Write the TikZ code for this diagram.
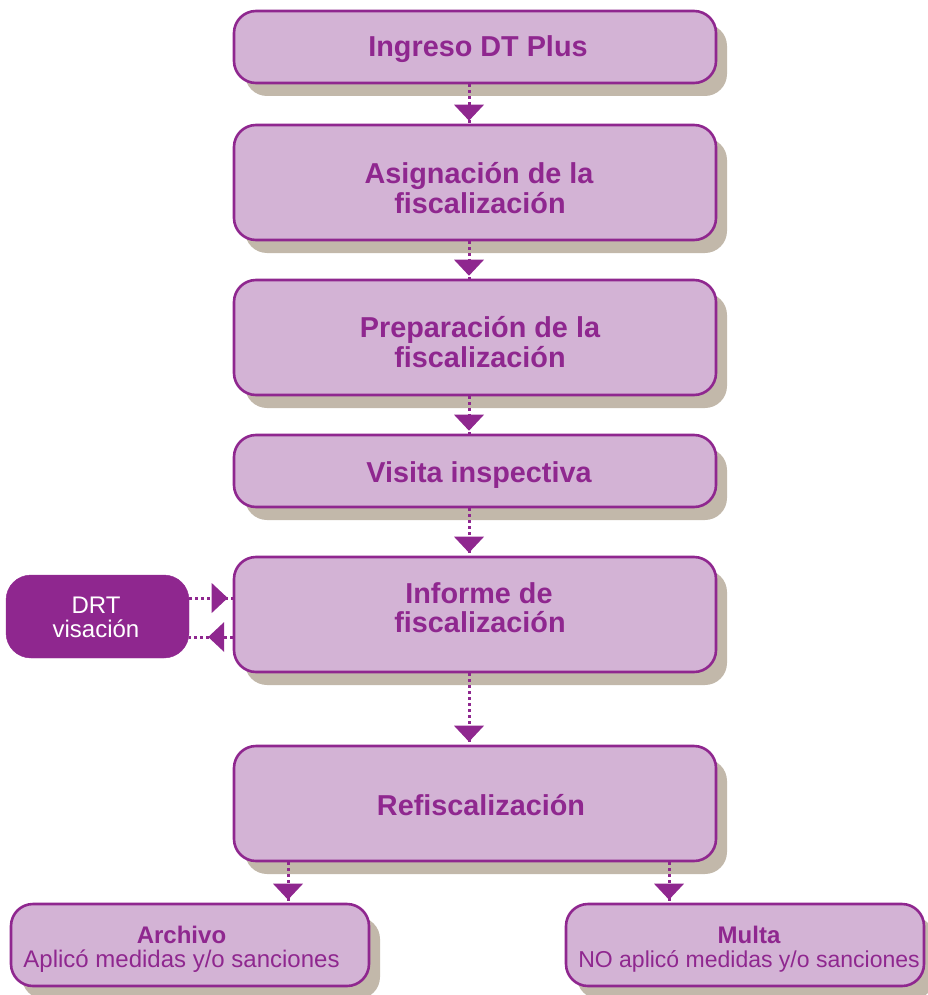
\documentclass[tikz,border=0pt]{standalone}
\usepackage{fontspec}
\setmainfont{Liberation Sans}
\usetikzlibrary{arrows.meta,shadows}
\definecolor{purp}{HTML}{8F278F}
\definecolor{lilac}{HTML}{D3B3D5}
\definecolor{shade}{HTML}{C2B8AA}
\begin{document}
\begin{tikzpicture}[x=1pt,y=-1pt,
  box/.style={draw=purp, line width=2.6pt, fill=lilac, rounded corners=22pt,
    drop shadow={shadow xshift=11pt, shadow yshift=-13pt, fill=shade, opacity=1},
    inner sep=0pt, minimum width=482pt},
  smallbox/.style={box, minimum width=358pt, minimum height=82pt},
  drtbox/.style={fill=purp, draw=purp, rounded corners=25pt, inner sep=0pt,
    minimum width=183pt, minimum height=83pt},
  big/.style={anchor=base, inner sep=0pt, text=purp, font=\fontsize{28.8}{30}\selectfont\bfseries},
  sml/.style={anchor=base, inner sep=0pt, text=purp, font=\fontsize{24}{24}\selectfont},
  smlb/.style={sml, font=\fontsize{24}{24}\selectfont\bfseries},
  wht/.style={anchor=base, inner sep=0pt, text=white, font=\fontsize{24}{24}\selectfont},
  dots/.style={draw=purp, line width=3pt, dash pattern=on 3pt off 3pt},
  head/.style={draw=purp, line width=1pt, line cap=butt, dash pattern=on 0pt off 3000pt,
    -{Triangle[width=30pt,length=16pt,line width=0pt]}},
]
\useasboundingbox (0,0) rectangle (928,995);

% boxes
\node[box, minimum height=72pt] (b1) at (475,47) {};
\node[box, minimum height=115pt] (b2) at (475,182.5) {};
\node[box, minimum height=115pt] (b3) at (475,337.5) {};
\node[box, minimum height=72pt] (b4) at (475,471) {};
\node[box, minimum height=115pt] (b5) at (475,614.5) {};
\node[box, minimum height=115pt] (b6) at (475,803.5) {};
\node[smallbox] (arch) at (190,945) {};
\node[smallbox] (multa) at (745,945) {};
\node[drtbox] (drt) at (97.5,616.5) {};

% texts
\node[big] (t1) at (478,57) {Ingreso DT Plus};
\node[big] (t2a) at (479,183) {Asignación de la};
\node[big] (t2b) at (480,213) {fiscalización};
\node[big] (t3a) at (480,337) {Preparación de la};
\node[big] (t3b) at (480,367) {fiscalización};
\node[big] (t4) at (479,482) {Visita inspectiva};
\node[big] (t5a) at (479,603) {Informe de};
\node[big] (t5b) at (480,632) {fiscalización};
\node[big] (t6) at (481,815) {Refiscalización};
\node[smlb] (ta1) at (181.5,943) {Archivo};
\node[sml] (ta2) at (181.5,967) {Aplicó medidas y/o sanciones};
\node[smlb] (tm1) at (749,943) {Multa};
\node[sml, font=\fontsize{23}{24}\selectfont] (tm2) at (749,967) {NO aplicó medidas y/o sanciones};
\node[wht] (td1) at (96,613) {DRT};
\node[wht] (td2) at (96,637) {visación};

% vertical connectors
\foreach \a/\b in {b1/b2,b2/b3,b3/b4,b4/b5,b5/b6}{
  \draw[dots] ([xshift=-6pt]\a.south) -- ([xshift=-6pt]\a.south |- \b.north);
  \draw[head, shorten >=3pt] ([xshift=-6pt]\a.south) -- ([xshift=-6pt]\a.south |- \b.north);
}
\draw[dots] ([xshift=-187pt]b6.south) -- ([xshift=-187pt]b6.south |- arch.north);
\draw[head, shorten >=3pt] ([xshift=-187pt]b6.south) -- ([xshift=-187pt]b6.south |- arch.north);
\draw[dots] ([xshift=194pt]b6.south) -- ([xshift=194pt]b6.south |- multa.north);
\draw[head, shorten >=3pt] ([xshift=194pt]b6.south) -- ([xshift=194pt]b6.south |- multa.north);

% DRT connectors
\draw[dots] ([yshift=18.5pt]drt.east) -- ([yshift=18.5pt]drt.east -| b5.west);
\draw[head, shorten >=5pt] ([yshift=18.5pt]drt.east) -- ([yshift=18.5pt]drt.east -| b5.west);
\draw[dots] ([yshift=-22.5pt]b5.west) -- ([yshift=-22.5pt]b5.west -| drt.east);
\draw[head, shorten >=19pt] ([yshift=-22.5pt]b5.west) -- ([yshift=-22.5pt]b5.west -| drt.east);
\end{tikzpicture}
\end{document}
